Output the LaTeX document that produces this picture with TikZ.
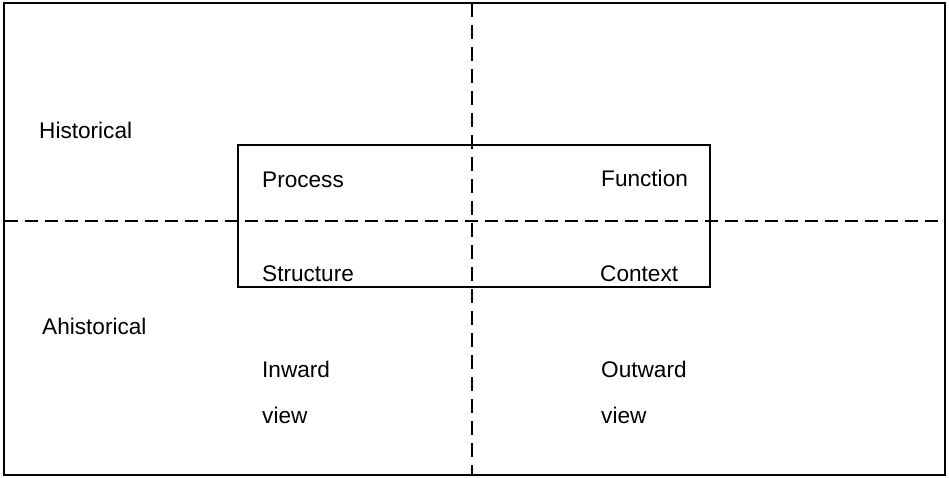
\documentclass[tikz,border=0pt]{standalone}
\usepackage{fontspec}
\setmainfont{Liberation Sans}

\begin{document}
\begin{tikzpicture}[
  x=1pt,
  y=-1pt,
  line join=miter,
  frame/.style={draw=black,line width=1.6pt},
  quadbox/.style={draw=black,line width=1.2pt},
  vsplit/.style={draw=black,line width=2.6pt,dash pattern=on 14pt off 8pt},
  hsplit/.style={draw=black,line width=1.8pt,dash pattern=on 13pt off 7pt},
  label/.style={anchor=base west,inner sep=0pt,font=\fontsize{22.6}{27}\selectfont}
]
  \useasboundingbox (0,0) rectangle (949,478);

  % Outer frame and the central box.
  \draw[frame] (4,3) rectangle (945,475);
  \draw[quadbox] (238,145) rectangle (710,287);

  % Ends of the two dashed axes.
  \coordinate (vtop) at (472,3);
  \coordinate (vbot) at (472,475);
  \coordinate (hleft) at (5,221);
  \coordinate (hright) at (945,221);

  \draw[hsplit] (hleft) -- (hright);
  \draw[vsplit] (vtop) -- (vbot);

  % Row labels on the left.
  \node[label] (hist) at (39,139) {Historical};
  \node[label] (ahist) at (42,334) {Ahistorical};

  % Quadrant labels inside the box.
  \node[label] (proc) at (262,188) {Process};
  \node[label] (func) at (601,187) {Function};
  \node[label] (struc) at (262,281) {Structure};
  \node[label] (cont) at (600,281) {Context};

  % Column labels below the box.
  \node[label] (inw) at (262,377) {Inward};
  \node[label] (inwv) at (262,423) {view};
  \node[label] (outw) at (601,377) {Outward};
  \node[label] (outwv) at (601,423) {view};
\end{tikzpicture}
\end{document}
